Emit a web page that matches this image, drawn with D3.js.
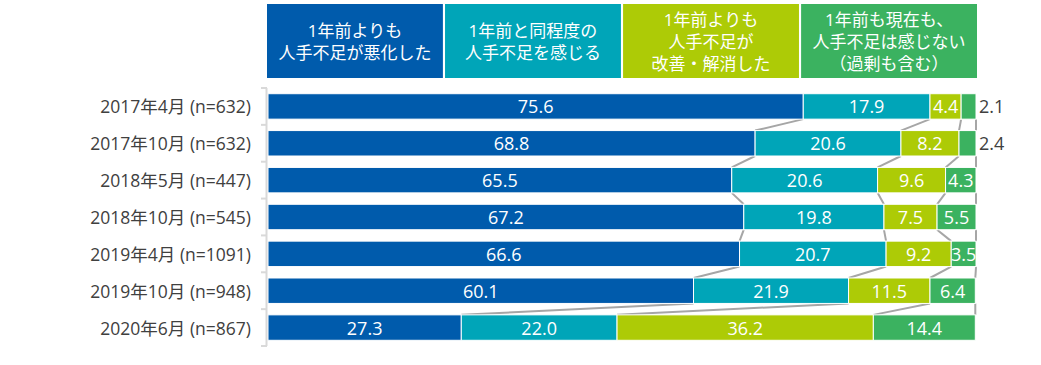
<!DOCTYPE html>
<html><head><meta charset="utf-8">
<script src="https://cdn.jsdelivr.net/npm/d3@7"></script>
<style>body{margin:0;background:#fff}svg{display:block}</style>
</head><body><svg id="c" width="1041" height="365"></svg>
<script>
const categories = ["2017年4月 (n=632)","2017年10月 (n=632)","2018年5月 (n=447)","2018年10月 (n=545)","2019年4月 (n=1091)","2019年10月 (n=948)","2020年6月 (n=867)"];
const seriesNames = [["1年前よりも","人手不足が悪化した"],["1年前と同程度の","人手不足を感じる"],["1年前よりも","人手不足が","改善・解消した"],["1年前も現在も、","人手不足は感じない","（過剰も含む）"]];
const worse = [75.6,68.8,65.5,67.2,66.6,60.1,27.3];
const same = [17.9,20.6,20.6,19.8,20.7,21.9,22.0];
const improved = [4.4,8.2,9.6,7.5,9.2,11.5,36.2];
const none = [2.1,2.4,4.3,5.5,3.5,6.4,14.4];
const colors = ["#005bac","#00a5b8","#adcb06","#3bb260"];

const values = [worse,same,improved,none];
const font = "'Open Sans','Noto Sans CJK JP',sans-serif";
const svg = d3.select("#c");
const x = d3.scaleLinear().domain([0,100]).range([268,976]);
const y = d3.scaleBand().domain(categories).range([88,346]).paddingInner(0.31).paddingOuter(0.155);
const bw = y.bandwidth();

// header boxes
const hx = d3.scaleBand().domain(d3.range(4)).range([267,977]).paddingInner(0.012);
const hg = svg.append("g");
seriesNames.forEach((lines,k)=>{
  hg.append("rect").attr("x",hx(k)).attr("y",4).attr("width",hx.bandwidth()).attr("height",74).attr("fill",colors[k]);
  const cy = 41, lh = 22;
  lines.forEach((t,j)=>{
    hg.append("text").attr("x",hx(k)+hx.bandwidth()/2).attr("y",cy+(j-(lines.length-1)/2)*lh)
      .attr("text-anchor","middle").attr("dominant-baseline","central")
      .attr("fill","#fff").style("font-family",font).style("font-size","17px").text(t);
  });
});

// stacked data
const rows = categories.map((c,i)=>{
  let acc=0; const segs=[];
  values.forEach((arr,k)=>{ segs.push({k,v:arr[i],x0:acc,x1:acc+arr[i]}); acc+=arr[i]; });
  return {c,i,segs};
});

// connectors
const cg = svg.append("g");
for(let i=0;i<rows.length-1;i++){
  for(let k=0;k<4;k++){
    cg.append("line")
      .attr("x1",x(rows[i].segs[k].x1)).attr("y1",y(categories[i])+bw)
      .attr("x2",x(rows[i+1].segs[k].x1)).attr("y2",y(categories[i+1]))
      .attr("stroke","#a6a6a6").attr("stroke-width",2);
  }
}

// bars
const bg = svg.append("g");
rows.forEach(r=>{
  r.segs.forEach(s=>{
    bg.append("rect").attr("x",x(s.x0)).attr("y",y(r.c)).attr("width",x(s.x1)-x(s.x0)).attr("height",bw)
      .attr("fill",colors[s.k]).attr("stroke","#fff").attr("stroke-width",1);
    const outside = s.v < 3;
    bg.append("text")
      .attr("x", outside ? x(s.x1)+3 : (x(s.x0)+x(s.x1))/2)
      .attr("y", y(r.c)+bw/2)
      .attr("text-anchor", outside ? "start" : "middle")
      .attr("dominant-baseline","central")
      .attr("fill", outside ? "#404040" : "#fff")
      .style("font-family",font).style("font-size","18px")
      .text(s.v.toFixed(1));
  });
});

// y axis
const ag = svg.append("g");
ag.append("line").attr("x1",266.5).attr("x2",266.5).attr("y1",88).attr("y2",346).attr("stroke","#d9d9d9").attr("stroke-width",2);
const step = y.step();
d3.range(categories.length+1).forEach(j=>{
  const yy = 88 + j*step;
  ag.append("line").attr("x1",261).attr("x2",267).attr("y1",yy).attr("y2",yy).attr("stroke","#d9d9d9").attr("stroke-width",2);
});
categories.forEach(c=>{
  ag.append("text").attr("x",251).attr("y",y(c)+bw/2).attr("text-anchor","end").attr("dominant-baseline","central")
    .attr("fill","#404040").style("font-family",font).style("font-size","17.5px").text(c);
});
</script></body></html>
